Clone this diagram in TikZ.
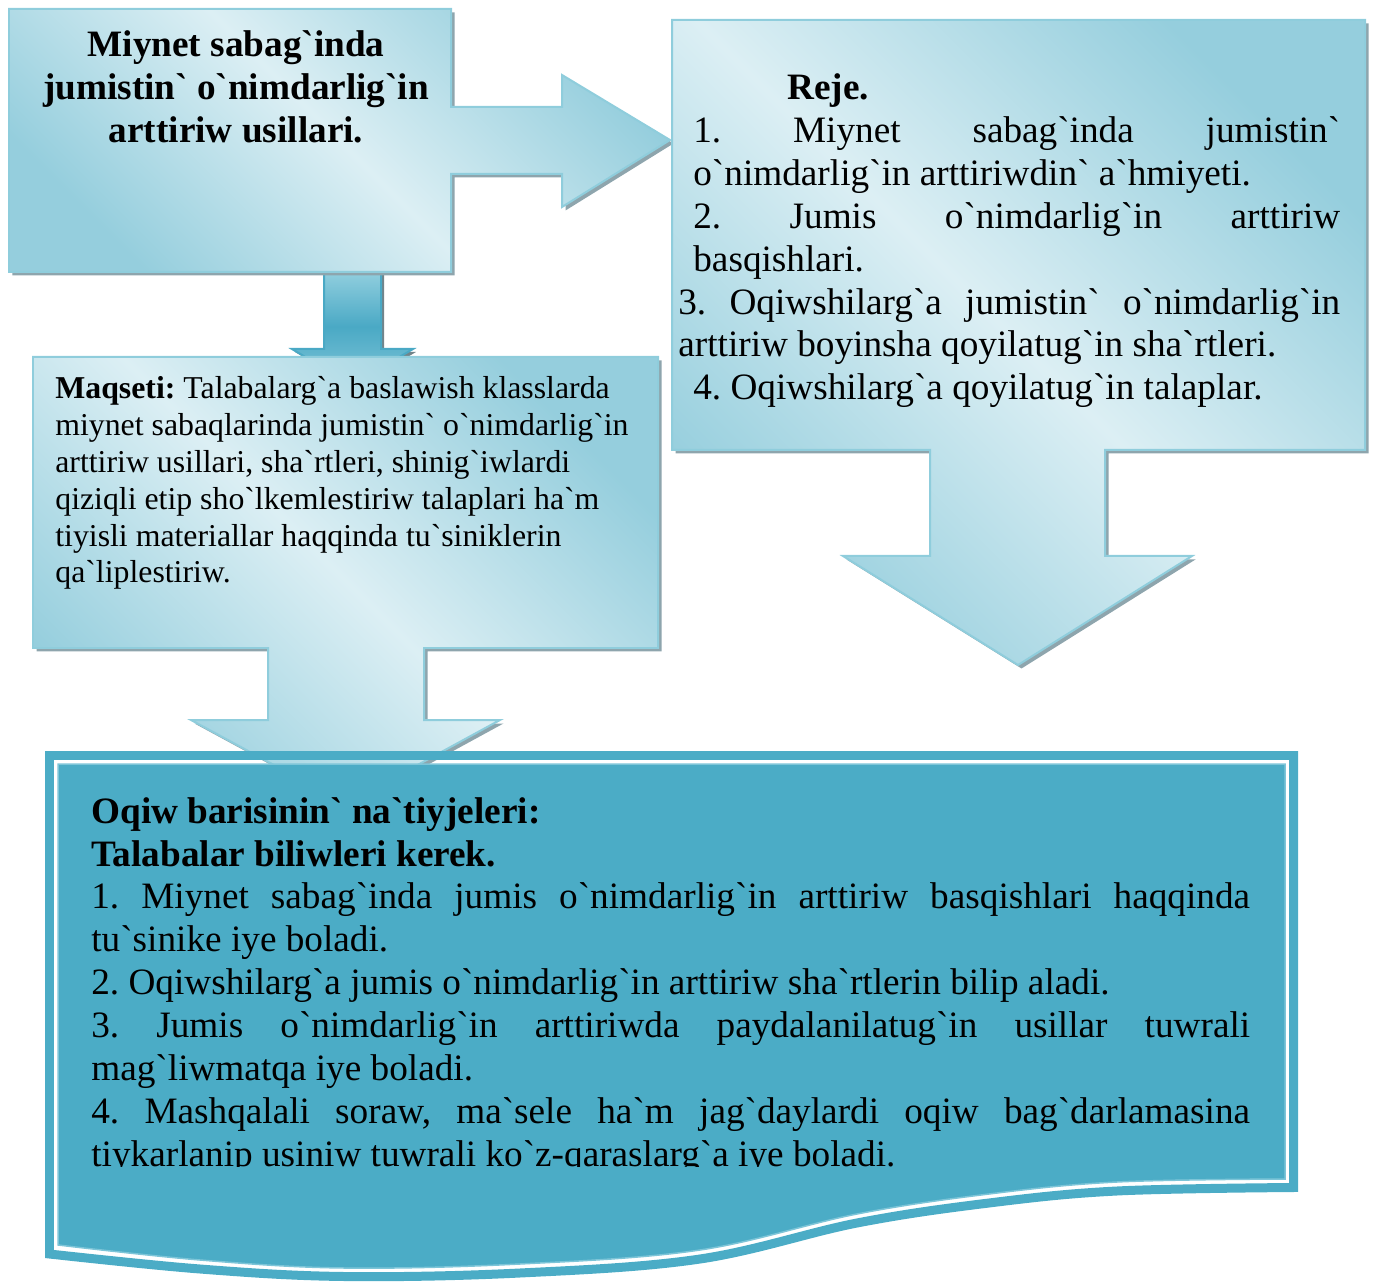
\documentclass[tikz,border=0pt]{standalone}
\usepackage{fontspec}
\newfontfamily\tnr{Liberation Serif}
\usetikzlibrary{shadows}
\definecolor{lightfill}{HTML}{DCEFF4}
\definecolor{darkfill}{HTML}{95CEDD}
\definecolor{edgeblue}{HTML}{8FCDDC}
\definecolor{shadowgray}{HTML}{8EA5AD}
\definecolor{resultblue}{HTML}{4BACC6}
\definecolor{resultedge}{HTML}{7DC5D8}
\definecolor{linkblue}{HTML}{4AA9C5}
\definecolor{linklight}{HTML}{96D1E0}
\hyphenpenalty=10000
\exhyphenpenalty=10000
\frenchspacing
\tikzset{
callout/.style={draw=edgeblue, line width=0.04cm, left color=darkfill, right color=darkfill, middle color=lightfill, shading angle=135,
  drop shadow={shadow xshift=0.07cm, shadow yshift=-0.07cm, fill=shadowgray, opacity=1}},
link/.style={draw=linkblue, line width=0.04cm, top color=linklight, bottom color=linklight!70!linkblue, middle color=linkblue,
  drop shadow={shadow xshift=0.06cm, shadow yshift=-0.06cm, fill=shadowgray!80!black, opacity=1}},
bigtext/.style={inner sep=0pt, font=\tnr\fontsize{21.2}{24.4}\selectfont, execute at begin node=\setlength{\parindent}{0pt}},
titletext/.style={inner sep=0pt, font=\tnr\bfseries\fontsize{21.2}{24.4}\selectfont, align=center},
smalltext/.style={inner sep=0pt, font=\tnr\fontsize{18.1}{21}\selectfont, align=left}
}
\begin{document}
\begin{tikzpicture}[x=0.02cm, y=-0.02cm]
\useasboundingbox (0,0) rectangle (1373,1283);

\draw[link] (324,268) -- (381,268) -- (381,349) -- (413,349) -- (352,385) -- (292,349) -- (324,349) -- cycle;

\draw[callout] (9,9) -- (451,9) -- (451,107) -- (562,107) -- (562,75) -- (670,140) -- (562,207) -- (562,174) -- (451,174) -- (451,272) -- (9,272) -- cycle;
\draw[callout] (672,20) -- (1365,20) -- (1365,450) -- (1105,450) -- (1105,556) -- (1192,556) -- (1018,665) -- (843,556) -- (930,556) -- (930,450) -- (672,450) -- cycle;
\draw[callout] (33,357) -- (658,357) -- (658,648) -- (424,648) -- (424,720) -- (500,720) -- (346,804) -- (191,720) -- (268,720) -- (268,648) -- (33,648) -- cycle;

\draw[resultblue, line width=0.18cm] (49.5,755.5) -- (1293.5,755.5) -- (1293.5,1187.5) -- plot[smooth, tension=0.6] coordinates {(1293.5,1187.5) (1117,1191) (989,1203) (857,1223) (700,1259) (520,1273) (344,1276.5) (200,1269) (49.5,1254)} -- cycle;
\draw[fill=resultblue, draw=resultedge, line width=0.03cm] (58,764) -- (1285,764) -- (1285,1179) -- plot[smooth, tension=0.6] coordinates {(1285,1179) (1117,1182) (989,1194) (857,1214) (700,1250) (520,1264) (344,1268) (200,1260) (58,1245)} -- cycle;

\node[titletext, anchor=north] (title) at (236,30.5) {Miynet sabag`inda\\ jumistin` o`nimdarlig`in\\ arttiriw usillari.};

\node[bigtext, anchor=north west, text width=13.24cm, align=justify] (plan) at (678,73.5) {\hspace*{2.18cm}\textbf{Reje.}\par
{\leftskip=0.3cm 1. Miynet sabag`inda jumistin`\linebreak o`nimdarlig`in arttiriwdin` a`hmiyeti.\par
2. Jumis o`nimdarlig`in arttiriw\linebreak basqishlari.\par}
3. Oqiwshilarg`a jumistin` o`nimdarlig`in\linebreak arttiriw boyinsha qoyilatug`in sha`rtleri.\par
{\leftskip=0.3cm 4. Oqiwshilarg`a qoyilatug`in talaplar.\par}};

\node[smalltext, anchor=north west] (goal) at (55,376) {\textbf{Maqseti:} Talabalarg`a baslawish klasslarda\\ miynet sabaqlarinda jumistin` o`nimdarlig`in\\ arttiriw usillari, sha`rtleri, shinig`iwlardi\\ qiziqli etip sho`lkemlestiriw talaplari ha`m\\ tiyisli materiallar haqqinda tu`siniklerin\\ qa`liplestiriw.};

\begin{scope}
\clip (58,764) rectangle (1285,1166);
\node[bigtext, anchor=north west, text width=23.18cm, align=justify] (result) at (91,797) {\textbf{Oqiw barisinin` na`tiyjeleri:}\par
\textbf{Talabalar biliwleri kerek.}\par
1. Miynet sabag`inda jumis o`nimdarlig`in arttiriw basqishlari haqqinda\linebreak tu`sinike iye boladi.\par
2. Oqiwshilarg`a jumis o`nimdarlig`in arttiriw sha`rtlerin bilip aladi.\par
3. Jumis o`nimdarlig`in arttiriwda paydalanilatug`in usillar tuwrali\linebreak mag`liwmatqa iye boladi.\par
4. Mashqalali soraw, ma`sele ha`m jag`daylardi oqiw bag`darlamasina\linebreak tiykarlanip usiniw tuwrali ko`z-qaraslarg`a iye boladi.};
\end{scope}

\end{tikzpicture}
\end{document}
